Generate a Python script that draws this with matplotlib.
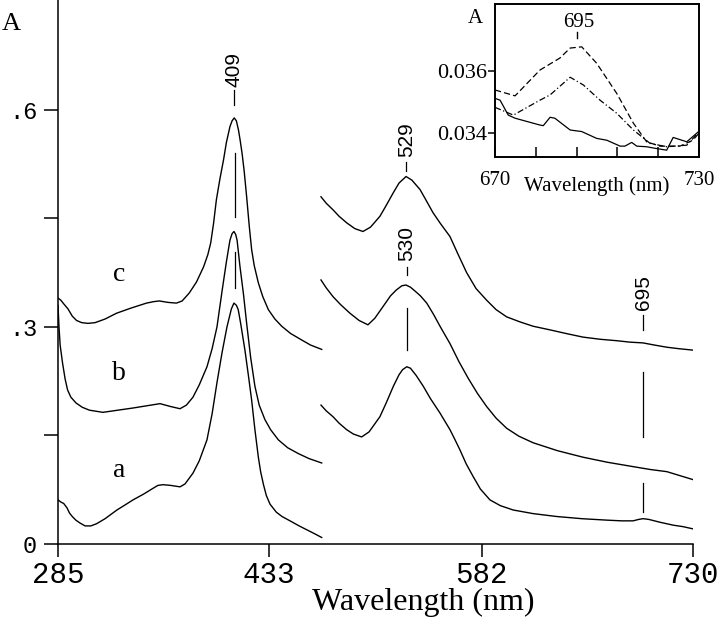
import matplotlib
matplotlib.use("Agg")
import matplotlib.pyplot as plt

# ---------------- data ----------------
# Soret region (UV segment)
c_uv_wl = [285, 287, 289, 292, 295, 298, 301.6, 306, 311, 318, 326, 336, 347, 352, 356, 362, 368, 372, 377, 382, 387, 390, 392, 394, 396, 398.5, 401, 403, 405.5, 407, 408.5, 410, 411.5, 412.5, 414, 415.5, 417.2, 419, 420.7, 422.5, 425.4, 428.5, 432.4, 437, 441.8, 448, 455.8, 462, 469.8]
c_uv_A = [0.340, 0.337, 0.332, 0.325, 0.315, 0.309, 0.306, 0.305, 0.306, 0.311, 0.319, 0.326, 0.333, 0.335, 0.336, 0.334, 0.333, 0.336, 0.347, 0.362, 0.383, 0.400, 0.416, 0.443, 0.476, 0.505, 0.531, 0.555, 0.577, 0.585, 0.589, 0.585, 0.572, 0.560, 0.540, 0.515, 0.480, 0.440, 0.407, 0.385, 0.361, 0.342, 0.324, 0.311, 0.301, 0.291, 0.282, 0.275, 0.269]

b_uv_wl = [285, 285.7, 286.5, 288.2, 290, 291.7, 294, 297.6, 302, 307, 316.5, 327, 337.6, 347, 356.5, 364, 370.5, 375, 379.6, 384, 389.4, 393, 396.4, 400, 403, 405.5, 407, 408.3, 409.5, 410.5, 412.5, 415, 417.2, 420, 423, 426, 430, 434, 439.4, 446, 453.4, 461, 469.8]
b_uv_A = [0.330, 0.300, 0.275, 0.250, 0.228, 0.213, 0.203, 0.195, 0.189, 0.185, 0.182, 0.185, 0.188, 0.191, 0.194, 0.190, 0.187, 0.192, 0.203, 0.220, 0.245, 0.270, 0.300, 0.350, 0.390, 0.420, 0.429, 0.432, 0.428, 0.420, 0.384, 0.345, 0.305, 0.258, 0.218, 0.192, 0.172, 0.158, 0.144, 0.133, 0.125, 0.118, 0.112]

a_uv_wl = [285, 287, 289, 291.3, 293, 295, 297.5, 300.4, 304, 308, 312, 318, 326.3, 332, 337.6, 345, 351.6, 355, 358.6, 364, 370.5, 374, 379.6, 384, 389.4, 393, 396.4, 400, 403.4, 406.5, 408.3, 410, 411.3, 413, 416, 418.5, 420.7, 423, 425.4, 427, 429, 431, 433.6, 438, 442, 447.6, 454, 460, 465, 469.8]
a_uv_A = [0.061, 0.058, 0.056, 0.050, 0.043, 0.038, 0.033, 0.029, 0.025, 0.025, 0.028, 0.035, 0.047, 0.054, 0.061, 0.069, 0.077, 0.081, 0.082, 0.081, 0.079, 0.083, 0.098, 0.115, 0.144, 0.180, 0.223, 0.265, 0.300, 0.325, 0.333, 0.330, 0.324, 0.305, 0.268, 0.232, 0.199, 0.158, 0.120, 0.100, 0.082, 0.067, 0.055, 0.044, 0.038, 0.032, 0.025, 0.019, 0.014, 0.009]

# visible region (second segment)
c_vis_wl = [469.3, 473, 477.7, 482, 487.3, 493, 498.7, 504, 510.6, 515, 519.8, 524, 528.9, 533, 538.7, 543, 547.8, 553, 559.7, 565, 571.4, 578, 585.4, 592, 599.4, 608.8, 618, 629.8, 641, 652.9, 665, 676.7, 686, 694.9, 703, 711.7, 720, 730]
c_vis_A = [0.480, 0.471, 0.462, 0.453, 0.444, 0.436, 0.432, 0.438, 0.453, 0.468, 0.485, 0.499, 0.508, 0.503, 0.490, 0.475, 0.458, 0.443, 0.425, 0.402, 0.375, 0.353, 0.337, 0.324, 0.314, 0.307, 0.301, 0.296, 0.291, 0.286, 0.283, 0.281, 0.279, 0.278, 0.275, 0.272, 0.270, 0.268]

b_vis_wl = [469.3, 473, 477.7, 483, 489.6, 496, 502.2, 507, 512.7, 518, 522, 526, 528.9, 532, 535, 539, 543.4, 548, 553, 559.7, 566, 572.5, 579, 585.4, 592, 599.4, 608, 617.9, 635, 652.9, 670, 687.9, 700, 711.7, 720, 730]
b_vis_A = [0.365, 0.354, 0.342, 0.331, 0.319, 0.309, 0.303, 0.312, 0.328, 0.343, 0.351, 0.357, 0.358, 0.355, 0.350, 0.343, 0.333, 0.318, 0.300, 0.277, 0.252, 0.229, 0.208, 0.190, 0.174, 0.160, 0.149, 0.140, 0.129, 0.120, 0.113, 0.107, 0.103, 0.100, 0.095, 0.089]

a_vis_wl = [469.3, 473, 477.7, 482, 487.3, 492, 497.8, 503, 510.6, 515, 520, 524, 526.5, 529.4, 532, 536, 541, 546, 552.7, 559.7, 563, 566.7, 571, 576, 581, 587.7, 595, 604, 618, 634.5, 652, 669.5, 680, 688, 692, 695, 699, 707, 716.2, 723, 729.8]
a_vis_A = [0.192, 0.184, 0.176, 0.167, 0.158, 0.152, 0.148, 0.155, 0.176, 0.195, 0.218, 0.234, 0.241, 0.245, 0.243, 0.233, 0.218, 0.201, 0.181, 0.158, 0.145, 0.130, 0.111, 0.093, 0.076, 0.061, 0.053, 0.047, 0.042, 0.038, 0.035, 0.033, 0.032, 0.032, 0.034, 0.035, 0.034, 0.030, 0.026, 0.024, 0.021]

curve_labels = ["a", "b", "c"]
main_xticks = [285, 433, 582, 730]
main_yticks = [0, 0.15, 0.3, 0.45, 0.6]
main_yticklabels = ["0", "", ".3", "", ".6"]

# inset (670-730 nm)
ins_dash_wl = [670, 675.9, 683.2, 689.1, 692.1, 695.5, 699.9, 705.8, 710.7, 714.6, 718.5, 724.4, 728.2, 730]
ins_dash_A = [0.03539, 0.03520, 0.03603, 0.03642, 0.03674, 0.03678, 0.03625, 0.03528, 0.03432, 0.03372, 0.03358, 0.03358, 0.03377, 0.03400]
ins_dd_wl = [670, 675.4, 683.2, 686.2, 692.1, 696, 700.9, 705.8, 710.7, 715.6, 720.5, 726.4, 730]
ins_dd_A = [0.03483, 0.03458, 0.03506, 0.03523, 0.03580, 0.03555, 0.03506, 0.03464, 0.03410, 0.03367, 0.03356, 0.03361, 0.03404]
ins_solid_wl = [670, 671.5, 673.9, 675.9, 683.2, 684.2, 686.2, 687.6, 692.1, 695.5, 699.9, 702.9, 706.8, 708.2, 710.2, 711.7, 714.6, 717.1, 720.5, 722.4, 726.4, 730]
ins_solid_A = [0.03512, 0.03506, 0.03458, 0.03448, 0.03426, 0.03424, 0.03451, 0.03448, 0.03410, 0.03405, 0.03383, 0.03377, 0.03358, 0.03358, 0.03370, 0.03358, 0.03356, 0.03351, 0.03345, 0.03386, 0.03372, 0.03406]
ins_xticks = [670, 682, 694, 706, 718, 730]
ins_xticklabels = ["670", "", "", "", "", "730"]
ins_yticks = [0.034, 0.036]
ins_yticklabels = ["0.034", "0.036"]

# ---------------- figure ----------------
SERIF = ["Liberation Serif", "DejaVu Serif"]
MONO = ["Liberation Mono", "DejaVu Sans Mono"]
SANS = ["Liberation Sans", "DejaVu Sans"]

fig = plt.figure(figsize=(7.2, 6.23), dpi=100)
ax = fig.add_axes([58 / 720, 1 - 544 / 623, 635 / 720, 544 / 623])

lw = 1.0
for wl, A in [(c_uv_wl, c_uv_A), (b_uv_wl, b_uv_A), (a_uv_wl, a_uv_A),
              (c_vis_wl, c_vis_A), (b_vis_wl, b_vis_A), (a_vis_wl, a_vis_A)]:
    ax.plot(wl, A, color="black", lw=lw)

ax.set_xlim(285, 730)
ax.set_ylim(0, 0.752)
for s in ["top", "right"]:
    ax.spines[s].set_visible(False)
for s in ["left", "bottom"]:
    ax.spines[s].set_linewidth(1.1)

ax.set_xticks(main_xticks)
ax.set_xticklabels([str(t) for t in main_xticks], family=MONO, fontsize=21)
ax.set_yticks(main_yticks)
ax.set_yticklabels(main_yticklabels, family=MONO, fontsize=17)
ax.tick_params(axis="x", direction="out", length=9, width=1.1, pad=3)
ax.tick_params(axis="y", direction="out", length=10, width=1.1, pad=5)

ax.set_xlabel("Wavelength (nm)", family=SERIF, fontsize=23, va="top")
ax.xaxis.set_label_coords((423 - 58) / 635, -(588 - 544) / 544)

fig.text(2 / 720, 1 - 24 / 623, "A", family=SERIF, fontsize=19, va="center", ha="left")

# curve letters
for lab, y in zip(curve_labels, [0.102, 0.236, 0.372]):
    ax.text(328, y, lab, family=SERIF, fontsize=20, ha="center", va="center")

# peak annotations
ann_col = "black"
ax.text(408.3, 0.656, "409", rotation=90, family=SANS, fontsize=15, ha="center", va="center")
ax.plot([408.3, 408.3], [0.607, 0.628], color=ann_col, lw=0.9)
ax.plot([409, 409], [0.452, 0.541], color=ann_col, lw=0.9)
ax.plot([409, 409], [0.354, 0.404], color=ann_col, lw=0.9)

ax.text(529, 0.559, "529", rotation=90, family=SANS, fontsize=15, ha="center", va="center")
ax.plot([529, 529], [0.515, 0.528], color=ann_col, lw=0.9)

ax.text(529.6, 0.415, "530", rotation=90, family=SANS, fontsize=15, ha="center", va="center")
ax.plot([529.6, 529.6], [0.372, 0.383], color=ann_col, lw=0.9)
ax.plot([529.6, 529.6], [0.268, 0.326], color=ann_col, lw=0.9)

ax.text(695, 0.347, "695", rotation=90, family=SANS, fontsize=15, ha="center", va="center")
ax.plot([695, 695], [0.296, 0.317], color=ann_col, lw=0.9)
ax.plot([695, 695], [0.148, 0.238], color=ann_col, lw=0.9)
ax.plot([695, 695], [0.044, 0.084], color=ann_col, lw=0.9)

# ---------------- inset ----------------
ins = fig.add_axes([495 / 720, 1 - 157 / 623, 204 / 720, 153 / 623])
ins.plot(ins_dash_wl, ins_dash_A, color="black", lw=0.9, ls=(0, (5, 2.5)))
ins.plot(ins_dd_wl, ins_dd_A, color="black", lw=0.9, ls=(0, (5, 2, 1, 2)))
ins.plot(ins_solid_wl, ins_solid_A, color="black", lw=0.9)
ins.set_xlim(670, 730)
ins.set_ylim(0.03323, 0.03816)
for s in ins.spines.values():
    s.set_linewidth(1.4)
ins.set_xticks(ins_xticks)
ins.set_xticklabels(ins_xticklabels, family=SERIF, fontsize=15)
ins.set_yticks(ins_yticks)
ins.set_yticklabels(ins_yticklabels, family=SERIF, fontsize=16)
ins.tick_params(axis="x", direction="in", length=7, width=1.1, pad=10)
ins.tick_params(axis="y", direction="out", length=5, width=1.1, pad=1)
ins.text(0.5, -0.19, "Wavelength (nm)", transform=ins.transAxes, family=SERIF,
         fontsize=15, ha="center", va="center")
ins.text(-0.098, 0.905, "A", transform=ins.transAxes, family=SERIF, fontsize=15,
         ha="center", va="center")
ins.text(694.7, 0.03755, "695", family=SERIF, fontsize=15, ha="center", va="center")
ins.plot([694.1, 694.1], [0.03706, 0.03726], color="black", lw=1.0)

fig.savefig("out.png", dpi=100)
